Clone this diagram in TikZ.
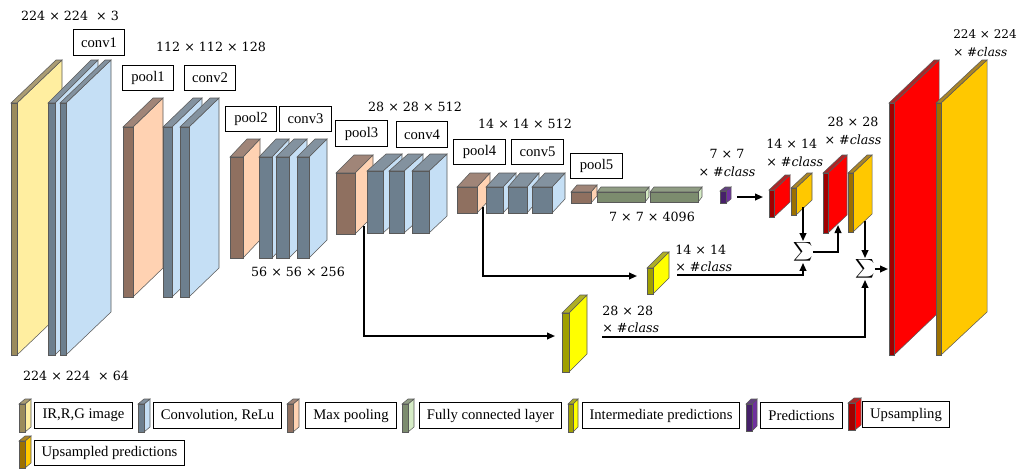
\documentclass[tikz,border=0pt]{standalone}
\usepackage{fontspec}
\setmainfont{Liberation Serif}
\newfontfamily\dimfont{DejaVu Serif}
\usetikzlibrary{arrows.meta,calc}

\definecolor{irD}{RGB}{155,139,92}
\definecolor{irL}{RGB}{255,238,160}
\definecolor{cvD}{RGB}{109,127,142}
\definecolor{cvL}{RGB}{197,223,245}
\definecolor{plD}{RGB}{143,112,96}
\definecolor{plL}{RGB}{255,210,178}
\definecolor{fcD}{RGB}{124,140,110}
\definecolor{fcL}{RGB}{214,236,198}
\definecolor{imD}{RGB}{160,160,0}
\definecolor{imL}{RGB}{255,255,0}
\definecolor{prD}{RGB}{70,32,105}
\definecolor{prL}{RGB}{112,48,160}
\definecolor{upD}{RGB}{160,0,0}
\definecolor{upL}{RGB}{255,0,0}
\definecolor{usD}{RGB}{156,112,0}
\definecolor{usL}{RGB}{255,200,0}

% #1 name, #2 x1, #3 ytop, #4 x2, #5 ybot, #6 dx, #7 dy, #8 dark, #9 light
\newcommand\cub[9]{%
  \filldraw[cubedge, fill=#9] (#4,#3) -- ++(#6,-#7) -- ++(0,{#5-#3}) -- (#4,#5) -- cycle;
  \filldraw[cubedge, fill=#8!85!white] (#2,#3) -- (#4,#3) -- ++(#6,-#7) -- ++({#2-#4},0) -- cycle;
  \filldraw[cubedge, fill=#8] (#2,#3) rectangle (#4,#5);
  \coordinate (#1) at ({(#2+#4)/2},{(#3+#5)/2});
}

\tikzset{
  cubedge/.style={draw=black!65, line width=0.4pt},
  lbox/.style={draw=black, line width=0.7pt, inner xsep=2pt, inner ysep=0pt,
    minimum height=19pt, font=\fontsize{11}{13}\selectfont},
  mbox/.style={lbox, minimum width=38.5pt},
  dim/.style={font=\dimfont\fontsize{9.5}{13}\selectfont, inner sep=0pt},
  conn/.style={line width=1.3pt, -{Triangle[length=6pt,width=5pt]}},
  sig/.style={font=\fontsize{11}{11}\selectfont, inner sep=0pt},
}

\begin{document}
\begin{tikzpicture}[x=0.75pt,y=-0.75pt]
\useasboundingbox (0,0) rectangle (1019,468);

% ---------------- encoder ----------------
\cub{ir}{11}{103}{17}{355}{45}{43}{irD}{irL}
\cub{c1a}{48}{103}{55}{355}{43}{43}{cvD}{cvL}
\cub{c1b}{60}{103}{66}{355}{45}{43}{cvD}{cvL}
\cub{p1}{123}{127}{133}{297}{30}{29}{plD}{plL}
\cub{c2a}{163}{127}{172}{297}{30}{29}{cvD}{cvL}
\cub{c2b}{180}{127}{189}{297}{30}{29}{cvD}{cvL}
\cub{p2}{230}{157}{243}{258}{17}{18}{plD}{plL}
\cub{c3a}{259}{157}{272}{258}{17}{18}{cvD}{cvL}
\cub{c3b}{276}{157}{289}{258}{18}{18}{cvD}{cvL}
\cub{c3c}{297}{157}{309}{258}{18}{18}{cvD}{cvL}
\cub{p3}{336}{173}{355}{234}{18}{18}{plD}{plL}
\cub{c4a}{367}{171}{383}{233}{19}{17}{cvD}{cvL}
\cub{c4b}{389}{171}{404}{233}{19}{17}{cvD}{cvL}
\cub{c4c}{412}{171}{429}{233}{18}{17}{cvD}{cvL}
\cub{p4}{457}{187}{477}{213}{13}{14}{plD}{plL}
\cub{c5a}{486}{187}{503}{213}{13}{14}{cvD}{cvL}
\cub{c5b}{508}{187}{527}{213}{12}{14}{cvD}{cvL}
\cub{c5c}{532}{187}{552}{213}{13}{14}{cvD}{cvL}
\cub{p5}{571}{192}{591}{203}{6}{7}{plD}{plL}
\cub{fc1}{597}{192}{645}{202}{4}{5}{fcD}{fcL}
\cub{fc2}{650}{192}{698}{202}{4}{5}{fcD}{fcL}
\cub{pr}{720}{191}{726}{203}{5}{4}{prD}{prL}

% ---------------- skip / decoder ----------------
\cub{i14}{647}{268}{653}{294}{16}{16}{imD}{imL}
\cub{i28}{562}{313}{569}{372}{18}{18}{imD}{imL}
\cub{r1}{769}{190}{774}{217}{16}{15}{upD}{upL}
\cub{g1}{791}{188}{796}{215}{16}{15}{usD}{usL}
\cub{r2}{823}{173}{828}{233}{19}{18}{upD}{upL}
\cub{g2}{848}{173}{853}{232}{19}{18}{usD}{usL}
\cub{br}{889}{103}{894}{355}{45}{43}{upD}{upL}
\cub{bg}{936}{103}{941}{355}{46}{43}{usD}{usL}

% ---------------- layer boxes ----------------
\node[mbox] (bconv1) at (99,42.5) {conv1};
\node[mbox] (bpool1) at (148,78) {pool1};
\node[mbox] (bconv2) at (210,78) {conv2};
\node[mbox] (bpool2) at (251,119) {pool2};
\node[mbox] (bconv3) at (305.5,119) {conv3};
\node[mbox] (bpool3) at (361.5,133.5) {pool3};
\node[mbox] (bconv4) at (422,134.5) {conv4};
\node[mbox] (bpool4) at (479.5,152) {pool4};
\node[mbox] (bconv5) at (537.5,152) {conv5};
\node[mbox] (bpool5) at (596.5,166) {pool5};

% ---------------- dimension labels ----------------
\node[dim] (d1) at (70,16) {224 × 224~~× 3};
\node[dim] (d2) at (211,47) {112 × 112 × 128};
\node[dim] (d3) at (415,107) {28 × 28 × 512};
\node[dim] (d4) at (298,272) {56 × 56 × 256};
\node[dim] (d5) at (525,124) {14 × 14 × 512};
\node[dim] (d6) at (652,217) {7 × 7 × 4096};
\node[dim] (d7) at (76,376) {224 × 224~~× 64};
\node[dim, align=center] (d8) at (727,163) {7 × 7\\× \#{\itshape class}};
\node[dim, align=left, anchor=west] (d9) at (766,153) {14 × 14\\× \#{\itshape class}};
\node[dim, align=center] (d10) at (853,131) {28 × 28\\× \#{\itshape class}};
\node[dim, align=left, anchor=west, font=\dimfont\fontsize{9}{13}\selectfont] (d11) at (953,43) {224 × 224\\× \#{\itshape class}};
\node[dim, align=left, anchor=west] (d12) at (675,258.5) {14 × 14\\× \#{\itshape class}};
\node[dim, align=left, anchor=west] (d13) at (602,319.5) {28 × 28\\× \#{\itshape class}};

% ---------------- sums ----------------
\node[sig] (s1) at (803,252) {$\displaystyle\sum$};
\node[sig] (s2) at (865,269) {$\displaystyle\sum$};

% ---------------- connector end points ----------------
\coordinate (p3o) at (364,226);
\coordinate (i28in) at (555,336);
\coordinate (p4o) at (483,207);
\coordinate (i14in) at (637,276);
\coordinate (i14o) at (677,275);
\coordinate (i28o) at (602,337);
\coordinate (pro) at (737,197);
\coordinate (r1in) at (763,197);
\coordinate (g1o) at (803,207);
\coordinate (r2in) at (838,225);
\coordinate (g2o) at (865,221);
\coordinate (brin) at (888,269);

\draw[conn] (p3o) |- (i28in);
\draw[conn] (p4o) |- (i14in);
\draw[conn] (i14o) -| (s1.south);
\draw[conn] (i28o) -| (s2.south);
\draw[conn] (pro) -- (r1in);
\draw[conn] (g1o) -- (s1.north);
\draw[conn] (s1.east) -| (r2in);
\draw[conn] (g2o) -- (s2.north);
\draw[conn] (s2.east) -- (brin);

% ---------------- legend ----------------
\cub{k1}{19}{404}{25}{432}{6}{5}{irD}{irL}
\cub{k2}{138}{404}{144}{432}{6}{5}{cvD}{cvL}
\cub{k3}{287}{404}{293}{432}{6}{5}{plD}{plL}
\cub{k4}{402}{404}{408}{432}{6}{5}{fcD}{fcL}
\cub{k5}{568}{404}{573}{432}{5}{5}{imD}{imL}
\cub{k6}{746}{404}{752}{431}{5}{5}{prD}{prL}
\cub{k7}{848}{403}{855}{430}{6}{5}{upD}{upL}
\cub{k8}{19}{441}{25}{468}{6}{5}{usD}{usL}

\node[lbox, minimum width=73.5pt, anchor=west] (l1) at (34,415.5) {IR,R,G image};
\node[lbox, minimum width=96pt, anchor=west] (l2) at (153,415.5) {Convolution, ReLu};
\node[lbox, minimum width=68.25pt, anchor=west] (l3) at (305,415.5) {Max pooling};
\node[lbox, minimum width=106.5pt, anchor=west] (l4) at (419,415.5) {Fully connected layer};
\node[lbox, minimum width=117.75pt, anchor=west] (l5) at (582,415.5) {Intermediate predictions};
\node[lbox, minimum width=61.5pt, anchor=west] (l6) at (760,415.5) {Predictions};
\node[lbox, minimum width=65.25pt, anchor=west] (l7) at (862,414.5) {Upsampling};
\node[lbox, minimum width=112.5pt, anchor=west] (l8) at (34,453) {Upsampled predictions};
\end{tikzpicture}
\end{document}
